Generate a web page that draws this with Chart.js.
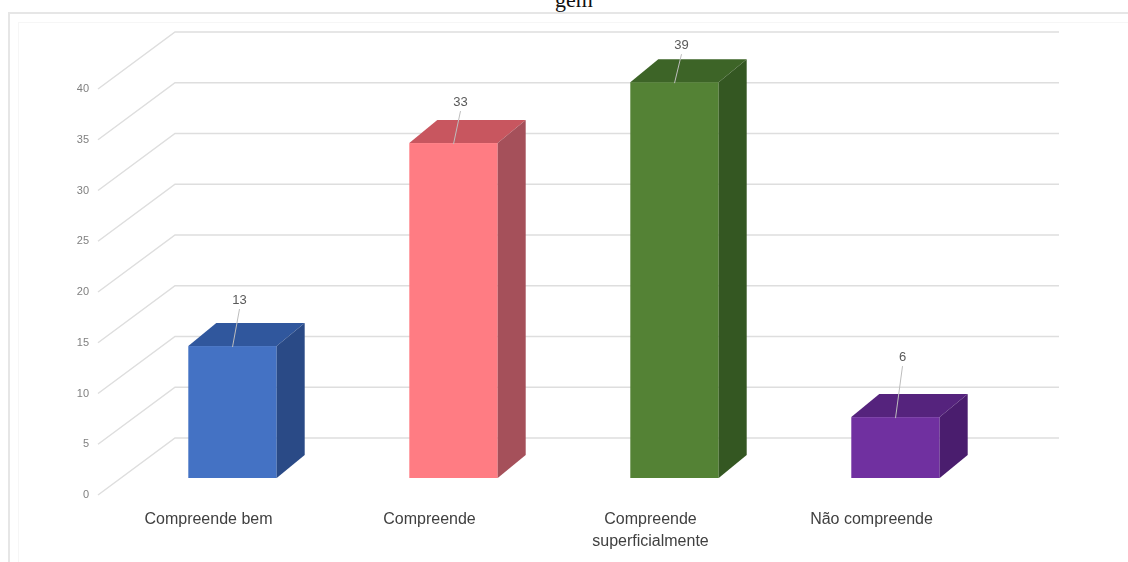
<!DOCTYPE html>
<html>
<head>
<meta charset="utf-8">
<script src="https://cdn.jsdelivr.net/npm/chart.js@4.4.1/dist/chart.umd.min.js"></script>
<style>
  html, body { margin: 0; padding: 0; background: #ffffff; }
  #wrap { position: relative; width: 1128px; height: 562px; overflow: hidden; background: #ffffff; }
  #frame { position: absolute; left: 8px; top: 12px; width: 1140px; height: 600px; border: 2px solid #e6e6e6; box-sizing: border-box; }
  #inner { position: absolute; left: 18px; top: 22px; width: 1130px; height: 600px; border: 1px solid #f6f6f6; box-sizing: border-box; }
  #title { position: absolute; left: 0; width: 1148px; top: -11px; text-align: center; font: 22px/22px "Liberation Serif", serif; color: #111111; }
  #chart { position: absolute; left: 0; top: 0; }
</style>
</head>
<body>
<div id="wrap">
  <div id="title">gem</div>
  <div id="frame"></div>
  <div id="inner"></div>
  <canvas id="chart" width="1128" height="562"></canvas>
</div>
<script>
// Categories and answer counts
const categories = ['Compreende bem', 'Compreende', ['Compreende', 'superficialmente'], 'Não compreende'];
const counts = [13, 33, 39, 6];
const yMin = 0;
const yMax = 40;
const yStep = 5;

// Face colours for each box: front, top, side
const frontColors = ['#4472c4', '#ff7c83', '#548235', '#7030a0'];
const topColors   = ['#30579d', '#c8565f', '#3d6427', '#55237d'];
const sideColors  = ['#2a4a86', '#a5505a', '#345722', '#4a1d6e'];

// Oblique projection: back wall offset, box position in depth and box depth
const wallOffset = { dx: 77, dy: -57 };
const boxShift   = { dx: 24, dy: -17 };
const boxDepth   = { dx: 28, dy: -23 };
// How far each value label sits above its box
const labelLift  = [46, 41, 37, 60];

Chart.defaults.font.family = '"Liberation Sans", Arial, sans-serif';

const box3d = {
  id: 'box3d',
  beforeDatasetsDraw(chart) {
    const { ctx, chartArea: a, scales: { y } } = chart;
    ctx.save();
    ctx.strokeStyle = '#dedede';
    ctx.lineWidth = 1.5;
    for (let v = yMin; v <= yMax; v += yStep) {
      const py = y.getPixelForValue(v);
      ctx.beginPath();
      ctx.moveTo(a.left, py);
      ctx.lineTo(a.left + wallOffset.dx, py + wallOffset.dy);
      ctx.lineTo(a.right + wallOffset.dx, py + wallOffset.dy);
      ctx.stroke();
    }
    ctx.restore();
  },
  beforeDatasetDraw(chart, args) {
    const { ctx } = chart;
    const meta = args.meta;
    ctx.save();
    meta.data.forEach((el, i) => {
      const p = el.getProps(['x', 'y', 'base', 'width'], true);
      const x0 = p.x - p.width / 2 + boxShift.dx;
      const x1 = p.x + p.width / 2 + boxShift.dx;
      const yt = p.y + boxShift.dy;
      const yb = p.base + boxShift.dy;
      const dx = boxDepth.dx, dy = boxDepth.dy;
      // front
      ctx.fillStyle = frontColors[i];
      ctx.fillRect(x0, yt, x1 - x0, yb - yt);
      // top
      ctx.fillStyle = topColors[i];
      ctx.beginPath();
      ctx.moveTo(x0, yt);
      ctx.lineTo(x1, yt);
      ctx.lineTo(x1 + dx, yt + dy);
      ctx.lineTo(x0 + dx, yt + dy);
      ctx.closePath();
      ctx.fill();
      // side
      ctx.fillStyle = sideColors[i];
      ctx.beginPath();
      ctx.moveTo(x1, yt);
      ctx.lineTo(x1 + dx, yt + dy);
      ctx.lineTo(x1 + dx, yb + dy);
      ctx.lineTo(x1, yb);
      ctx.closePath();
      ctx.fill();
    });
    ctx.restore();
    return false;
  },
  afterDatasetsDraw(chart) {
    const { ctx } = chart;
    const meta = chart.getDatasetMeta(0);
    ctx.save();
    ctx.font = '13px "Liberation Sans", Arial, sans-serif';
    ctx.textAlign = 'center';
    ctx.textBaseline = 'middle';
    meta.data.forEach((el, i) => {
      const p = el.getProps(['x', 'y'], true);
      const cx = p.x + boxShift.dx;
      const yt = p.y + boxShift.dy;
      const lx = cx + 7;
      const ly = yt - labelLift[i];
      ctx.strokeStyle = '#bdbdbd';
      ctx.lineWidth = 1;
      ctx.beginPath();
      ctx.moveTo(lx, ly + 9);
      ctx.lineTo(cx, yt + 1);
      ctx.stroke();
      ctx.fillStyle = '#595959';
      ctx.fillText(String(counts[i]), lx, ly);
    });
    ctx.restore();
  }
};

new Chart(document.getElementById('chart'), {
  type: 'bar',
  data: {
    labels: categories,
    datasets: [{
      data: counts,
      backgroundColor: frontColors,
      barPercentage: 0.4,
      categoryPercentage: 1.0
    }]
  },
  options: {
    responsive: false,
    animation: false,
    devicePixelRatio: 1,
    layout: { padding: { top: 89, right: 146, left: 0, bottom: 0 } },
    plugins: { legend: { display: false }, tooltip: { enabled: false } },
    scales: {
      x: {
        type: 'category',
        grid: { display: false, drawTicks: false },
        border: { display: false },
        ticks: {
          padding: 14,
          color: '#404040',
          font: { size: 16, lineHeight: 1.375 },
          maxRotation: 0,
          autoSkip: false
        },
        afterFit(s) { s.height = 67; }
      },
      y: {
        min: yMin,
        max: yMax,
        grid: { display: false, drawTicks: false },
        border: { display: false },
        ticks: {
          stepSize: yStep,
          padding: 9,
          color: '#808080',
          font: { size: 11 }
        },
        afterFit(s) { s.width = 98; }
      }
    }
  },
  plugins: [box3d]
});
</script>
</body>
</html>
